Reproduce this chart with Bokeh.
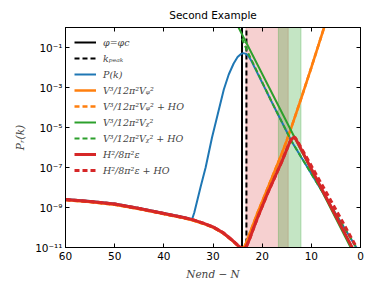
import numpy as np
from bokeh.plotting import figure
from bokeh.models import (Range1d, LinearAxis, LogAxis, FixedTicker, CustomJSTickFormatter,
                          BoxAnnotation, Legend, LegendItem)
from bokeh.embed import file_html
from bokeh.resources import INLINE

# ---------------- data (x = N_end - N, values as log10 of P) ----------------
phi_c_N = 24.1          # phi = phi_c
k_peak_N = 23.2         # k_peak
pink_span = [23.3, 14.7]
green_span = [16.7, 12.1]

blue_N = [60, 55, 50, 45, 40, 36, 34.6, 34.2, 33.8, 33.3, 32.5, 31.5, 30.2, 29.0, 27.8, 26.8,
          25.8, 25.0, 24.3, 23.8, 23.3, 22.8, 22.3, 18.0, 14.0, 0.6, 0.0]
blue_lg = [-8.57, -8.67, -8.80, -9.02, -9.27, -9.47, -9.56, -9.55, -9.25, -8.75, -7.95, -7.0,
           -5.5, -4.3, -3.1, -2.35, -1.8, -1.48, -1.32, -1.28, -1.32, -1.42, -1.62, -3.75,
           -5.70, -11.10, -11.34]

orange_N = [60, 55, 50, 45, 40, 36, 34, 32, 30, 28, 27, 26, 25, 24.3, 23.8, 23.2, 22.6, 22,
            21, 20, 19, 18, 17, 16, 15, 14, 12, 10, 7.4, 6.8]
orange_lg = [-8.63, -8.73, -8.86, -9.08, -9.33, -9.53, -9.65, -9.81, -10.0, -10.28, -10.48,
             -10.68, -10.9, -11.03, -11.02, -10.75, -10.35, -9.95, -9.30, -8.70, -8.10, -7.50,
             -6.90, -6.30, -5.65, -4.95, -3.50, -2.00, 0.0, 0.45]

green_N = [25.8, 13.4, 2.0, 0.0]
green_lg = [0.48, -5.5, -11.0, -11.97]

green_dash_N = [24.1, 23.0, 18.0, 14.0, 0.6, 0.0]
green_dash_lg = [-0.55, -1.20, -3.75, -5.70, -11.10, -11.34]

red_N = [60, 55, 50, 45, 40, 36, 34, 32, 30, 28, 27, 26, 25, 24.3, 23.7, 23.2, 22.6, 22, 21,
         20, 19, 18, 17, 16, 15, 14.5, 14.0, 13.6, 13.2, 12.5, 7.0, 1.7, 0.0]
red_lg = [-8.60, -8.70, -8.83, -9.05, -9.30, -9.50, -9.62, -9.78, -9.97, -10.25, -10.45,
          -10.65, -10.88, -11.02, -11.06, -10.95, -10.60, -10.20, -9.55, -8.95, -8.35, -7.80,
          -7.25, -6.70, -6.10, -5.80, -5.58, -5.50, -5.56, -5.88, -8.49, -11.0, -11.81]

red_dash_N = [60, 55, 50, 45, 40, 36, 34, 32, 30, 28, 27, 26, 25, 24.3, 23.7, 23.2, 22.6, 22,
              21, 20, 19, 18, 17, 16, 15, 14.5, 14.0, 13.7, 13.3, 12.6, 6.0, 0.9, 0.0]
red_dash_lg = [-8.60, -8.70, -8.83, -9.05, -9.30, -9.50, -9.62, -9.78, -9.97, -10.25, -10.45,
               -10.65, -10.88, -11.02, -11.06, -10.95, -10.60, -10.20, -9.55, -8.95, -8.35,
               -7.80, -7.25, -6.70, -6.10, -5.78, -5.52, -5.45, -5.50, -5.78, -8.67, -10.95,
               -11.30]

x_ticks = [60, 50, 40, 30, 20, 10, 0]
y_tick_exps = [-11, -9, -7, -5, -3, -1]
y_tick_labels = ["10⁻¹¹", "10⁻⁹", "10⁻⁷", "10⁻⁵", "10⁻³", "10⁻¹"]
X_RANGE = (60, 0)
Y_MIN, Y_MAX = 1e-11, 1.0

labels = ["φ=φc", "kₚₑₐₖ", "P(k)", "V³/12π²Vᵩ²", "V³/12π²Vᵩ² + HO",
          "V³/12π²Vᵪ²", "V³/12π²Vᵪ² + HO", "H²/8π²ε", "H²/8π²ε + HO"]

BLUE, ORANGE, GREEN, RED = "#1f77b4", "#ff7f0e", "#2ca02c", "#d62728"

def pw(lg):
    return [10.0 ** v for v in lg]

# ---------------- figure ----------------
p = figure(frame_width=295, frame_height=220,
           x_range=Range1d(*X_RANGE), y_range=Range1d(Y_MIN, Y_MAX),
           y_axis_type="log", output_backend="svg", toolbar_location=None,
           min_border_left=65, min_border_right=6, min_border_top=27, min_border_bottom=35,
           title="Second Example")
p.title.align = "center"
p.title.text_font = "DejaVu Sans"
p.title.text_font_size = "10.5px"
p.title.text_font_style = "normal"
p.title.text_color = "black"
p.title.standoff = 13
p.grid.visible = False
p.outline_line_color = "black"
p.outline_line_width = 1
p.background_fill_color = "white"
p.border_fill_color = "white"

# shaded spans
p.add_layout(BoxAnnotation(left=pink_span[0], right=pink_span[1], fill_color=RED,
                           fill_alpha=0.22, line_color=RED, line_alpha=0.22, level="underlay"))
p.add_layout(BoxAnnotation(left=green_span[0], right=green_span[1], fill_color=GREEN,
                           fill_alpha=0.28, line_color=GREEN, line_alpha=0.28, level="underlay"))

r_phic = p.line([phi_c_N, phi_c_N], [Y_MIN / 10, Y_MAX * 10], line_color="black", line_width=2)
r_kpk = p.line([k_peak_N, k_peak_N], [Y_MIN / 10, Y_MAX * 10], line_color="black",
               line_width=2, line_dash="5 3")
r_blue = p.line(blue_N, pw(blue_lg), line_color=BLUE, line_width=2)
r_or = p.line(orange_N, pw(orange_lg), line_color=ORANGE, line_width=2.5)
r_ord = p.line(orange_N, pw(orange_lg), line_color=ORANGE, line_width=2.5, line_dash="5 3")
r_gr = p.line(green_N, pw(green_lg), line_color=GREEN, line_width=2)
r_grd = p.line(green_dash_N, pw(green_dash_lg), line_color=GREEN, line_width=2, line_dash="5 3")
r_rd = p.line(red_N, pw(red_lg), line_color=RED, line_width=3)
r_rdd = p.line(red_dash_N, pw(red_dash_lg), line_color=RED, line_width=3, line_dash="5 3")

renderers = [r_phic, r_kpk, r_blue, r_or, r_ord, r_gr, r_grd, r_rd, r_rdd]
legend = Legend(items=[LegendItem(label=l, renderers=[r]) for l, r in zip(labels, renderers)],
                location="top_left")
legend.glyph_width = 22
legend.glyph_height = 12
legend.label_height = 12
legend.spacing = 4
legend.padding = 4
legend.margin = 5
legend.label_standoff = 7
legend.background_fill_alpha = 0
legend.border_line_alpha = 0
legend.label_text_font = "DejaVu Serif"
legend.label_text_font_style = "italic"
legend.label_text_font_size = "9.5px"
p.add_layout(legend)

# axes
ytick_fmt = CustomJSTickFormatter(args=dict(exps=y_tick_exps, labs=y_tick_labels), code="""
const e = Math.round(Math.log10(tick));
const i = exps.indexOf(e);
return i >= 0 ? labs[i] : '';
""")
blank_fmt = CustomJSTickFormatter(code="return '';")
xt = FixedTicker(ticks=x_ticks)
yt = FixedTicker(ticks=[10.0 ** e for e in y_tick_exps])

def style(ax):
    ax.axis_line_color = "black"
    ax.major_tick_line_color = "black"
    ax.major_tick_in = 4
    ax.major_tick_out = 0
    ax.minor_tick_line_color = None
    ax.major_label_text_font = "DejaVu Sans"
    ax.major_label_text_font_size = "10.5px"
    ax.major_label_text_color = "black"
    ax.major_label_standoff = 4

xa = p.xaxis[0]
xa.ticker = xt
style(xa)
xa.axis_label = "Nend − N"
xa.axis_label_text_font = "DejaVu Serif"
xa.axis_label_text_font_style = "italic"
xa.axis_label_text_font_size = "10.5px"
xa.axis_label_standoff = 5

ya = p.yaxis[0]
ya.ticker = yt
ya.formatter = ytick_fmt
style(ya)
ya.major_label_standoff = 3
ya.axis_label = "Pᵣ(k)"
ya.axis_label_text_font = "DejaVu Serif"
ya.axis_label_text_font_style = "italic"
ya.axis_label_text_font_size = "10.5px"
ya.axis_label_standoff = 6

top = LinearAxis(ticker=xt, formatter=blank_fmt)
style(top)
top.major_label_standoff = 0
p.add_layout(top, "above")
right = LogAxis(ticker=yt, formatter=blank_fmt)
style(right)
right.major_label_standoff = 0
p.add_layout(right, "right")

open("out.html", "w").write(file_html(p, INLINE))
